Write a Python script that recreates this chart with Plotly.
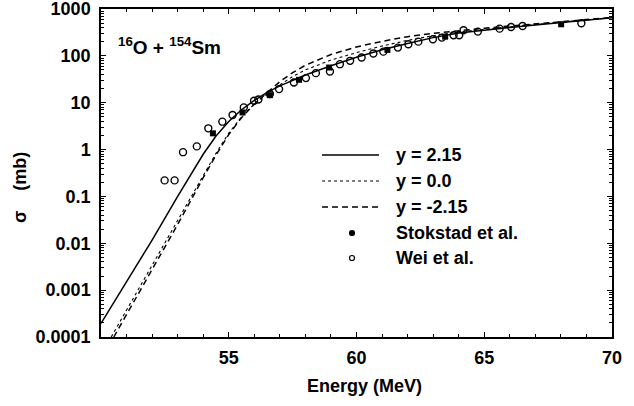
import plotly.graph_objects as go

# ---------------- data ----------------
# calculated fusion cross sections (mb) vs energy (MeV)
e_solid = [50, 51, 52, 53, 53.5, 54, 54.5, 55, 55.5, 56, 56.5, 57, 58, 59, 60, 61, 62, 63, 64, 65, 66, 67, 68, 69, 70]
s_solid = [1.95e-4, 1.48e-3, 0.0117, 0.100, 0.282, 0.794, 1.95, 3.98, 7.08, 11.2, 16.6, 22.9, 38.9, 61.7, 93.3,
           135, 184, 245, 309, 359, 403, 457, 513, 575, 653]

e_dot = [50.4, 51, 52, 53, 54, 54.5, 55, 55.5, 56, 56.5, 57, 57.5, 58, 59, 60, 61, 62, 63, 64, 65, 66, 67, 68, 69, 70]
s_dot = [1.0e-4, 3.72e-4, 3.39e-3, 0.0309, 0.282, 0.832, 2.24, 5.01, 9.33, 15.5, 24.0, 36.3, 50.1, 81.3, 117,
         162, 214, 269, 324, 372, 417, 468, 525, 582, 653]

e_dash = [50.5, 51, 52, 53, 54, 54.5, 55, 55.5, 56, 56.5, 57, 57.5, 58, 59, 60, 61, 62, 63, 64, 65, 66, 67, 68, 69, 70]
s_dash = [1.0e-4, 3.02e-4, 2.75e-3, 0.0251, 0.251, 0.759, 2.09, 4.79, 9.33, 16.6, 28.2, 43.7, 63.1, 107, 155,
          204, 257, 302, 347, 389, 432, 479, 531, 589, 661]

# Stokstad et al. (filled)
e_stok = [54.38, 55.54, 56.61, 57.75, 58.93, 61.21, 63.47, 68.01]
s_stok = [2.22, 6.2, 14.5, 30.8, 56.4, 134, 257, 472]

# Wei et al. (open)
e_wei = [52.49, 52.88, 53.21, 53.75, 54.20, 54.75, 55.15, 55.59, 55.99, 56.16, 56.61, 56.97,
         57.55, 58.02, 58.41, 58.96, 59.35, 59.75, 60.20, 60.66, 61.05, 61.62, 62.03, 62.42,
         62.99, 63.34, 63.80, 64.02, 64.19, 64.75, 65.60, 66.05, 66.50, 68.80]
s_wei = [0.22, 0.22, 0.88, 1.17, 2.84, 3.94, 5.47, 7.94, 11.0, 11.7, 15.3, 19.5,
         27, 33.5, 42.8, 46.4, 66.5, 78.3, 92, 112, 123, 150, 177, 201,
         226, 245, 275, 275, 352, 329, 381, 414, 434, 497]

x_ticks = [55, 60, 65, 70]
y_ticks = [1e-4, 1e-3, 1e-2, 1e-1, 1, 10, 100, 1000]
y_ticktext = ["0.0001", "0.001", "0.01", "0.1", "1", "10", "100", "1000"]

legend_labels = ["y = 2.15", "y = 0.0", "y = -2.15", "Stokstad et al.", "Wei et al."]

# ---------------- figure ----------------
FONT = "Liberation Sans"
W, H = 634, 406
L, R, T, B = 101, 22, 9, 69
PW, PH = W - L - R, H - T - B


def px_x(px):
    return (px - L) / PW


def px_y(py):
    return 1 - (py - T) / PH


fig = go.Figure()
fig.add_trace(go.Scatter(x=e_solid, y=s_solid, mode="lines", line=dict(color="black", width=1.5)))
fig.add_trace(go.Scatter(x=e_dot, y=s_dot, mode="lines", line=dict(color="black", width=1.1, dash="dot")))
fig.add_trace(go.Scatter(x=e_dash, y=s_dash, mode="lines", line=dict(color="black", width=1.5, dash="6px,4px")))
fig.add_trace(go.Scatter(x=e_wei, y=s_wei, mode="markers",
                         marker=dict(symbol="circle-open", size=7, color="black", line=dict(width=1.4))))
fig.add_trace(go.Scatter(x=e_stok, y=s_stok, mode="markers",
                         marker=dict(symbol="square", size=6, color="black")))

minor_x = [v for v in range(51, 70) if v not in x_ticks]
minor_y = [m * 10 ** k for k in range(-4, 3) for m in range(2, 10)]

tickfont = dict(family=FONT, size=18, color="black")
axis_common = dict(showline=True, linecolor="black", linewidth=1.5, mirror="allticks",
                   ticks="inside", ticklen=5, tickwidth=1.2, tickcolor="black", automargin=False,
                   showgrid=False, zeroline=False, tickfont=tickfont, ticklabeloverflow="allow")

fig.update_xaxes(range=[50, 70], tickmode="array", tickvals=x_ticks,
                 ticktext=["<b>%d</b>" % v for v in x_ticks], ticklabelstandoff=4,
                 minor=dict(tickmode="array", tickvals=minor_x, ticks="inside", ticklen=3,
                            tickwidth=1, tickcolor="black"),
                 **axis_common)
fig.update_yaxes(type="log", range=[-4, 3], tickmode="array", tickvals=y_ticks,
                 ticktext=["<b>%s</b>" % t for t in y_ticktext], ticklabelstandoff=5,
                 minor=dict(tickmode="array", tickvals=minor_y, ticks="inside", ticklen=3,
                            tickwidth=1, tickcolor="black"),
                 **axis_common)

annotations = []
shapes = []
tfont = dict(family=FONT, size=18, color="black")

# reaction label
annotations.append(dict(xref="paper", yref="paper", x=px_x(116), y=px_y(46), xanchor="left", yanchor="middle",
                        text="<b><sup>16</sup>O + <sup>154</sup>Sm</b>", showarrow=False,
                        font=dict(family=FONT, size=19, color="black")))
# axis titles
annotations.append(dict(xref="paper", yref="paper", x=px_x(364), y=px_y(386), xanchor="center", yanchor="middle",
                        text="<b>Energy (MeV)</b>", showarrow=False, font=tfont))
annotations.append(dict(xref="paper", yref="paper", x=px_x(20), y=px_y(188), xanchor="center", yanchor="middle",
                        text="<b>σ&nbsp;&nbsp;&nbsp;&nbsp;(mb)</b>", textangle=-90, showarrow=False, font=tfont))

# legend
rows = [155, 181, 207, 233, 258]
line_styles = [dict(color="black", width=1.5), dict(color="black", width=1.1, dash="dot"),
               dict(color="black", width=1.5, dash="6px,4px")]
for i, lab in enumerate(legend_labels):
    yy = px_y(rows[i])
    annotations.append(dict(xref="paper", yref="paper", x=px_x(394), y=yy, xanchor="left", yanchor="middle",
                            text="<b>%s</b>" % lab, showarrow=False, font=tfont))
    if i < 3:
        shapes.append(dict(type="line", xref="paper", yref="paper", x0=px_x(322), x1=px_x(379), y0=yy, y1=yy,
                           line=line_styles[i]))
    else:
        filled = (i == 3)
        shapes.append(dict(type="circle", xref="paper", yref="paper", xsizemode="pixel", ysizemode="pixel",
                           xanchor=px_x(352), yanchor=yy, x0=-2.5, x1=2.5, y0=-2.5, y1=2.5,
                           fillcolor="black" if filled else "white",
                           line=dict(color="black", width=1.2)))

fig.update_layout(width=W, height=H, margin=dict(l=L, r=R, t=T, b=B, autoexpand=False),
                  plot_bgcolor="white", paper_bgcolor="white", showlegend=False,
                  annotations=annotations, shapes=shapes)

fig.write_html("out.html", config={"displayModeBar": False},
               post_script="document.body.style.margin='0';document.body.style.padding='0';")
